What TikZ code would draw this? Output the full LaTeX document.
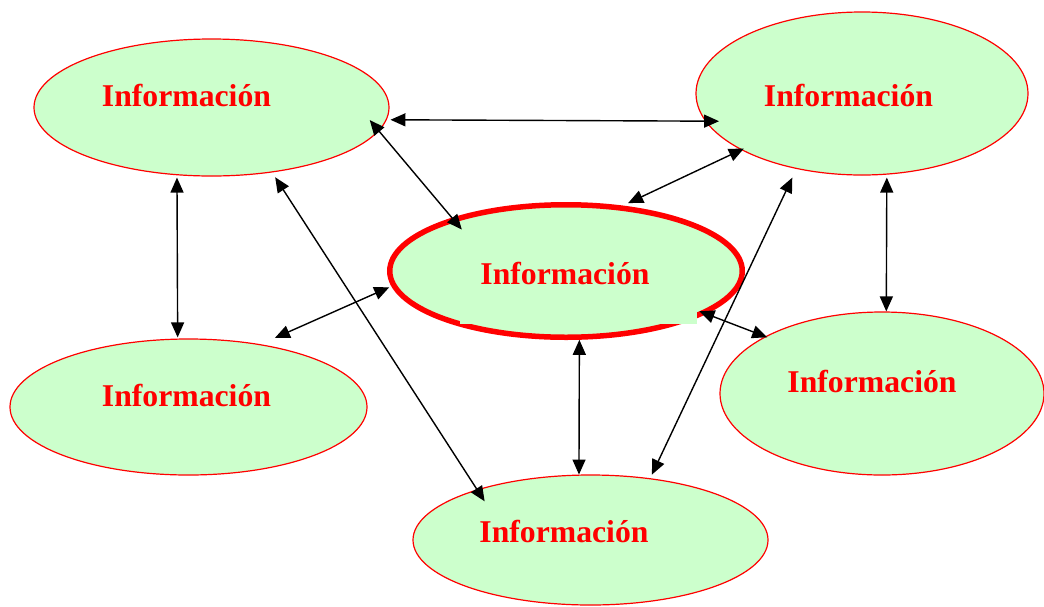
\documentclass[tikz,border=0pt]{standalone}
\usepackage{fontspec}
\setmainfont{Liberation Serif}
\usetikzlibrary{shapes.geometric,arrows.meta}
\definecolor{bubblefill}{HTML}{CCFFCC}
\definecolor{bubblered}{HTML}{FF0000}
\tikzset{
  bubble/.style={ellipse, draw=bubblered, fill=bubblefill, line width=1.2pt, inner sep=0pt},
  hub/.style={bubble, line width=5.5pt},
  word/.style={anchor=base, inner sep=0pt, text=bubblered, font=\fontsize{31.7}{38}\selectfont\bfseries},
  link/.style={<->, >={Triangle[length=15pt,width=13pt]}, line width=1.4pt, black}
}
\begin{document}
\begin{tikzpicture}[x=1pt,y=-1pt]
    \useasboundingbox (0,0) rectangle (1044,606);
    \node [bubble, minimum width=355pt, minimum height=137pt] (tl) at (211.5,107.5) {};
    \node [bubble, minimum width=332pt, minimum height=163pt] (tr) at (862,93.5) {};
    \node [bubble, minimum width=357pt, minimum height=136pt] (bl) at (188.5,407) {};
    \node [bubble, minimum width=324pt, minimum height=163pt] (rt) at (882,393.5) {};
    \node [bubble, minimum width=355pt, minimum height=130pt] (bot) at (590.5,540) {};
    \node [hub, minimum width=352.5pt, minimum height=132.5pt] (ctr) at (566,271) {};
    \fill [bubblefill] (460,300) rectangle (697,324);
    \node [word] (tl-txt) at (186.5,106) {Información};
    \node [word] (tr-txt) at (848.5,106) {Información};
    \node [word] (ctr-txt) at (565,284) {Información};
    \node [word] (bl-txt) at (186.5,406) {Información};
    \node [word] (rt-txt) at (872,392) {Información};
    \node [word] (bot-txt) at (564,542.5) {Información};
    \draw [link, shorten <=3.7pt, shorten >=-13.9pt] (tl.-4.6) -- (tr.190.2);
    \draw [link, shorten <=-14.3pt, shorten >=-15.3pt] (tl.-8.8) -- (ctr.155.6);
    \draw [link, shorten <=5.7pt, shorten >=-14.1pt] (tl.-47.9) -- (bot.156.4);
    \draw [link, shorten <=2.3pt, shorten >=1.1pt] (tl.-117.2) -- (bl.99.6);
    \draw [link, shorten <=-3.2pt, shorten >=5.8pt] (tr.-155.2) -- (ctr.49.6);
    \draw [link, shorten <=9.6pt, shorten >=3.9pt] (tr.-131.4) -- (bot.46.8);
    \draw [link, shorten <=2.9pt] (tr.-73.4) -- (rt.87.2);
    \draw [link, shorten <=2.4pt, shorten >=15.5pt] (ctr.-175.8) -- (bl.41.6);
    \draw [link, shorten <=-7.3pt, shorten >=-2.3pt] (ctr.-17.4) -- (rt.154.3);
    \draw [link] (ctr.-79.3) -- (bot.100.1);
\end{tikzpicture}
\end{document}
